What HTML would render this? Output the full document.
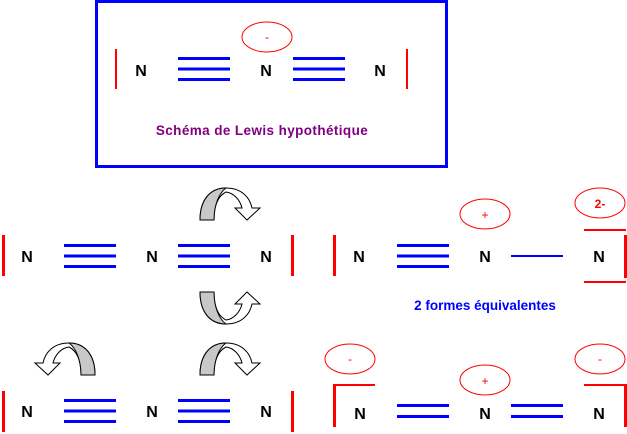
<!DOCTYPE html>
<html><head><style>body{margin:0;background:#fff}svg{display:block}</style></head><body>
<svg width="627" height="434" viewBox="0 0 627 434" xmlns="http://www.w3.org/2000/svg" font-family="Liberation Sans, sans-serif">
<defs>
<g id="arr">
<path d="M200,220 C200,200 210,188 226,188 C242,188 250,198 252,208 L260,208 L247,220 L235,208 L242,208 C240,200 234,193 226,192 C218,196 214,205 214,220 Z" fill="#fff" stroke="#000" stroke-width="1"/>
<path d="M200,220 C200,200 210,188 226,188 C219,193 214,205 214,220 Z" fill="#c8c8c8" stroke="#000" stroke-width="1"/>
</g>
<g id="tri"><rect x="0" y="-12" width="52" height="3" fill="#00f"/><rect x="0" y="-1.5" width="52" height="3" fill="#00f"/><rect x="0" y="9" width="52" height="3" fill="#00f"/></g>
</defs>
<rect x="96.5" y="1.5" width="350" height="165" fill="none" stroke="#00f" stroke-width="3"/>
<g font-weight="bold" font-size="16" text-anchor="middle" fill="#000">
<text x="141" y="76">N</text><text x="266" y="76">N</text><text x="380" y="76">N</text>
<text x="27" y="262">N</text><text x="152" y="262">N</text><text x="266" y="262">N</text>
<text x="359" y="262">N</text><text x="485" y="262">N</text><text x="599" y="262">N</text>
<text x="27" y="417">N</text><text x="152" y="417">N</text><text x="266" y="417">N</text>
<text x="360" y="419">N</text><text x="485" y="419">N</text><text x="599" y="419">N</text>
</g>
<use href="#tri" x="178" y="69"/><use href="#tri" x="293" y="69"/>
<use href="#tri" x="64" y="256"/><use href="#tri" x="178" y="256"/><use href="#tri" x="397" y="256"/>
<use href="#tri" x="64" y="411"/><use href="#tri" x="178" y="411"/>
<rect x="511" y="255" width="52" height="2" fill="#00f"/>
<rect x="397" y="404" width="52" height="3" fill="#00f"/><rect x="397" y="415" width="52" height="3" fill="#00f"/>
<rect x="511" y="404" width="52" height="3" fill="#00f"/><rect x="511" y="415" width="52" height="3" fill="#00f"/>
<g fill="#f00">
<rect x="115" y="49" width="2" height="40"/><rect x="406" y="49" width="2" height="40"/>
<rect x="2" y="235" width="3" height="41"/><rect x="291" y="235" width="3" height="41"/><rect x="333" y="235" width="3" height="41"/>
<rect x="584" y="229" width="42" height="2"/><rect x="584" y="281" width="42" height="2"/><rect x="624" y="235" width="3" height="43"/>
<rect x="2" y="391" width="3" height="41"/><rect x="291" y="391" width="3" height="41"/>
<rect x="333" y="384" width="3" height="43"/><rect x="333" y="384" width="42" height="2"/>
<rect x="584" y="384" width="42" height="2"/><rect x="624" y="384" width="3" height="43"/>
</g>
<g fill="none" stroke="#f00" stroke-width="1">
<ellipse cx="267" cy="37" rx="25" ry="15"/><ellipse cx="485" cy="214" rx="25" ry="15"/><ellipse cx="600" cy="203" rx="25" ry="15"/>
<ellipse cx="350" cy="359" rx="25" ry="15"/><ellipse cx="485" cy="380" rx="25" ry="15"/><ellipse cx="600" cy="359" rx="25" ry="15"/>
</g>
<g fill="#f00" text-anchor="middle" font-size="12">
<text x="267" y="41">-</text><text x="485" y="219">+</text><text x="600" y="208" font-weight="bold">2-</text>
<text x="350" y="363">-</text><text x="485" y="385">+</text><text x="600" y="363">-</text>
</g>
<text x="262" y="135" text-anchor="middle" font-size="13.5" font-weight="bold" fill="#800080" letter-spacing="0.4">Schéma de Lewis hypothétique</text>
<text x="485" y="310" text-anchor="middle" font-size="13.5" font-weight="bold" fill="#00f">2 formes équivalentes</text>
<use href="#arr"/>
<use href="#arr" transform="translate(0,512) scale(1,-1)"/>
<use href="#arr" transform="translate(0,155)"/>
<use href="#arr" transform="translate(295,155) scale(-1,1)"/>
</svg>
</body></html>
